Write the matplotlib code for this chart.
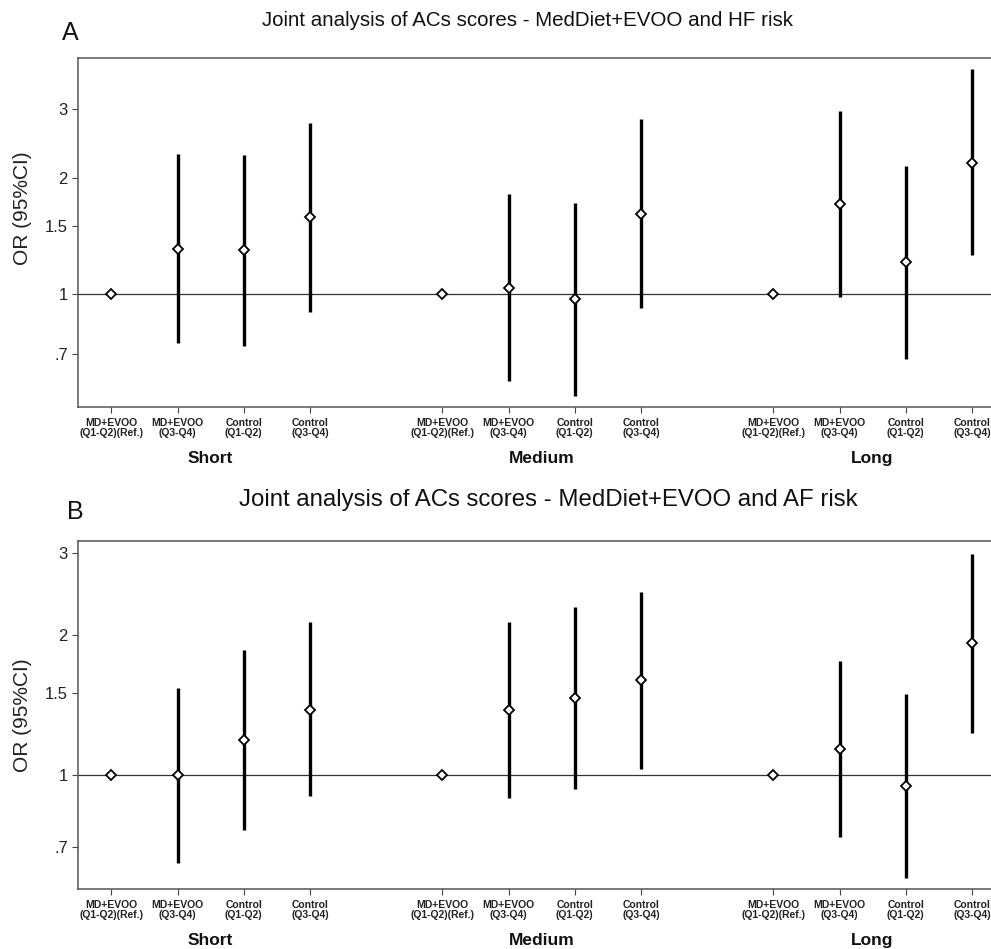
import matplotlib
matplotlib.use("Agg")
import matplotlib.pyplot as plt
import numpy as np

plt.rcParams['font.family'] = ['Liberation Sans', 'DejaVu Sans']

# --------------------------
# Data (OR and 95% CI)
# --------------------------
groups = ["Short", "Medium", "Long"]
arm_labels = ["MD+EVOO\n(Q1-Q2)(Ref.)", "MD+EVOO\n(Q3-Q4)", "Control\n(Q1-Q2)", "Control\n(Q3-Q4)"]
positions = [1, 2, 3, 4, 6, 7, 8, 9, 11, 12, 13, 14]

# panel A: HF risk
hf_or = [1.0, 1.31, 1.30, 1.58, 1.0, 1.04, 0.97, 1.61, 1.0, 1.71, 1.21, 2.18]
hf_lo = [1.0, 0.748, 0.737, 0.902, 1.0, 0.599, 0.547, 0.92, 1.0, 0.986, 0.682, 1.26]
hf_hi = [1.0, 2.30, 2.29, 2.77, 1.0, 1.81, 1.72, 2.83, 1.0, 2.97, 2.14, 3.80]

# panel B: AF risk
af_or = [1.0, 1.0, 1.19, 1.38, 1.0, 1.38, 1.46, 1.60, 1.0, 1.14, 0.947, 1.92]
af_lo = [1.0, 0.647, 0.762, 0.903, 1.0, 0.894, 0.933, 1.03, 1.0, 0.736, 0.601, 1.23]
af_hi = [1.0, 1.54, 1.85, 2.13, 1.0, 2.13, 2.29, 2.47, 1.0, 1.76, 1.49, 2.98]

y_ticks = [0.7, 1, 1.5, 2, 3]
y_ticklabels = [".7", "1", "1.5", "2", "3"]

W, H = 991, 949
fig = plt.figure(figsize=(W / 100, H / 100), dpi=100)


def px_axes(left, top, right, bottom):
    return fig.add_axes([left / W, 1 - bottom / H, (right - left) / W, (bottom - top) / H])


def draw_panel(ax, ors, los, his, ylim):
    ax.set_yscale("log")
    ax.axhline(1, color="#333333", lw=0.9, zorder=1)
    for x, o, lo, hi in zip(positions, ors, los, his):
        if hi > lo:
            ax.vlines(x, lo, hi, color="black", lw=2.4, zorder=2)
    ax.plot(positions, ors, ls="none", marker="D", ms=5.2, mfc="white",
            mec="black", mew=1.3, zorder=3)
    ax.set_xlim(0.5, 14.5)
    ax.set_ylim(*ylim)
    ax.set_yticks(y_ticks)
    ax.set_yticklabels(y_ticklabels, fontsize=12, color="#222222")
    ax.yaxis.set_minor_locator(matplotlib.ticker.NullLocator())
    ax.set_xticks(positions)
    ax.set_xticklabels(arm_labels * 3, fontsize=7.5, fontweight="bold",
                       linespacing=1.0, color="#222222")
    ax.tick_params(axis="both", length=4.5, width=0.8, color="#444444")
    ax.tick_params(axis="x", pad=3.5)
    ax.tick_params(axis="y", pad=3)
    for s in ax.spines.values():
        s.set_color("#555555")
        s.set_linewidth(1.1)
    ax.set_ylabel("OR (95%CI)", fontsize=15, color="#222222")
    for i, g in enumerate(groups):
        ax.annotate(g, xy=(positions[4 * i] + 1.5, 0), xycoords=("data", "axes fraction"),
                    xytext=(0, -37), textcoords="offset points", ha="center", va="center",
                    fontsize=12.5, fontweight="bold", color="#111111")


# --------------------------
# Panel A
# --------------------------
axA = px_axes(78.3, 58.3, 1005, 407.3)
draw_panel(axA, hf_or, hf_lo, hf_hi, (0.511, 4.06))
axA.yaxis.set_label_coords(-0.05, 0.57)
fig.text(527 / W, 1 - 20 / H, "Joint analysis of ACs scores - MedDiet+EVOO and HF risk",
         ha="center", va="center", fontsize=14.8, color="#111111")
fig.text(70 / W, 1 - 33 / H, "A", ha="center", va="center", fontsize=18, color="#111111")

# --------------------------
# Panel B
# --------------------------
axB = px_axes(78.3, 540.7, 1005, 889)
draw_panel(axB, af_or, af_lo, af_hi, (0.570, 3.18))
axB.yaxis.set_label_coords(-0.05, 0.5)
fig.text(548 / W, 1 - 500 / H, "Joint analysis of ACs scores - MedDiet+EVOO and AF risk",
         ha="center", va="center", fontsize=17.3, color="#111111")
fig.text(75 / W, 1 - 512 / H, "B", ha="center", va="center", fontsize=18, color="#111111")

fig.savefig("out.png", dpi=100)
